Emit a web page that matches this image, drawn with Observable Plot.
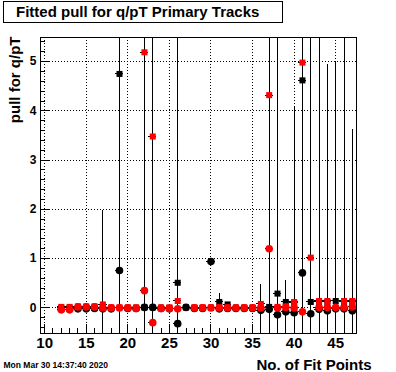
<!DOCTYPE html>
<html><head><meta charset="utf-8">
<script src="https://cdn.jsdelivr.net/npm/d3@7"></script>
<script src="https://cdn.jsdelivr.net/npm/@observablehq/plot@0.6"></script>
<style>
body{margin:0;background:#fff;}
#wrap{position:relative;width:396px;height:372px;font-family:"Liberation Sans",Arial,sans-serif;}
#wrap svg{position:absolute;left:0;top:0;}
#title{position:absolute;left:3px;top:1px;width:266px;height:20px;border:1px solid #000;background:#fff;font-weight:bold;font-size:15px;line-height:20px;padding-left:12px;white-space:nowrap;}
</style></head>
<body><div id="wrap"><div id="title">Fitted pull for q/pT Primary Tracks</div></div>
<script>
const nFit = [12,13,14,15,16,17,18,19,20,21,22,23,24,25,26,27,28,29,30,31,32,33,34,35,36,37,38,39,40,41,42,43,44,45,46,47];
const blackSquare    = [0,0,0,0,0,0,0,4.75,0,0,0.01,0.01,0,0,0.51,0.01,0,0,0,0.12,0.07,0,0,0,0,0.02,0.29,0.12,0.1,4.62,0.12,0.12,0.12,0.14,0.12,0.12];
const blackSquareErr = [0,0,0,0,0,0,0,8,0,0,0,0,0,0,8,0,0,0,0,0.17,0,0,0,0,0,0,8,0,0,8,0,0,0,4.86,0,0];
const blackCircle    = [-0.03,-0.03,-0.02,-0.02,-0.01,-0.02,-0.02,0.76,-0.01,-0.01,0.01,0.01,-0.01,-0.02,-0.32,0.01,-0.01,-0.01,0.94,-0.02,-0.01,-0.01,-0.01,-0.01,-0.05,-0.03,-0.14,-0.08,-0.1,0.71,-0.12,-0.03,-0.06,-0.02,-0.02,-0.06];
const blackCircleErr = [0,0,0,0,0,0,0,0,0,0,0,0,0,0,0,0,0,0,0,0,0,0,0,0,0.52,0,0,0.64,0,0,0,0,0,0,0,0];
const redSquare      = [0.02,0.02,0.03,0.03,0.03,0.07,0.01,0.01,0.01,0.01,5.19,3.48,0.01,0.01,0.14,null,0.01,0.01,0.01,0.01,0.01,0.01,0.01,0.01,0.08,4.32,0.02,0.03,0.12,4.98,1.02,0.14,0.14,null,0.14,0.14];
const redSquareErr   = [0,0,0,0,0,1.9,0,0,0,0,8,8,0,0,0,0,0,0,0,0,0,0,0,0,0,8,0,0,3.96,0,8,8,4.81,0,8,3.49];
const redCircle      = [-0.04,-0.04,0.02,0.02,0.02,0,0,0,0,-0.01,0.35,-0.3,-0.01,-0.01,-0.02,null,0,0,0,0,0,0,0,0,0,1.2,0,0.01,0,-0.08,null,0.01,0.01,0.01,0.01,0.02];
const redCircleErr   = nFit.map(() => 0);

const xTicks = [10,15,20,25,30,35,40,45];
const yTicks = [0,1,2,3,4,5];
const xMinor = d3.range(10, 48, 1);
const yMinor = d3.range(-0.4, 5.5, 0.2).map(v => +v.toFixed(2));

const W = 396, H = 372, mL = 40, mR = 40, mT = 37, mB = 39;
const FW = W - mL - mR, FH = H - mT - mB;
const crisp = {shapeRendering: "crispEdges"};

function rows(vals, errs) {
  return nFit.map((x, i) => ({x, y: vals[i], e: errs[i]})).filter(d => d.y != null);
}
const series = [
  {data: rows(blackSquare, blackSquareErr), fill: "black", symbol: "square", r: 3.4},
  {data: rows(blackCircle, blackCircleErr), fill: "black", symbol: "circle", r: 3.8},
  {data: rows(redSquare, redSquareErr), fill: "#ff0000", symbol: "square", r: 3.4},
  {data: rows(redCircle, redCircleErr), fill: "#ff0000", symbol: "circle", r: 3.8}
];

const marks = [
  Plot.gridX(xTicks, {stroke: "black", strokeOpacity: 1, strokeDasharray: "1,2", ...crisp}),
  Plot.gridY(yTicks, {stroke: "black", strokeOpacity: 1, strokeDasharray: "1,2", ...crisp}),
  Plot.tickY(yMinor, {y: d => d, stroke: "black", insetRight: FW - 4.5, ...crisp}),
  Plot.tickY(yTicks, {y: d => d, stroke: "black", insetRight: FW - 9, ...crisp}),
  Plot.tickX(xMinor, {x: d => d, stroke: "black", insetTop: FH - 5, ...crisp}),
  Plot.tickX(xTicks, {x: d => d, stroke: "black", insetTop: FH - 9, ...crisp}),
  Plot.axisY(yTicks, {anchor: "left", tickSize: 0, tickPadding: 4, fontSize: 12, fontWeight: "bold", label: null}),
  Plot.axisX(xTicks, {anchor: "bottom", tickSize: 0, tickPadding: 4, fontSize: 15, fontWeight: "bold", label: null})
];
for (const s of series) {
  const withErr = s.data.filter(d => d.e > 0);
  marks.push(
    Plot.ruleX(withErr, {x: "x", y1: d => d.y - d.e, y2: d => d.y + d.e, stroke: "black", strokeWidth: 1, clip: true, ...crisp}),
    Plot.ruleY(s.data, {y: "y", x1: d => d.x - 0.5, x2: d => d.x + 0.5, stroke: "black", clip: true, ...crisp}),
    Plot.dot(s.data, {x: "x", y: "y", symbol: s.symbol, fill: s.fill, r: s.r, clip: true})
  );
}
marks.push(
  Plot.frame({stroke: "black", ...crisp}),
  Plot.text(["No. of Fit Points"], {frameAnchor: "bottom-right", dx: 15, dy: 36, textAnchor: "end", lineAnchor: "bottom", fontSize: 15, fontWeight: "bold"}),
  Plot.text(["pull for q/pT"], {frameAnchor: "top-left", dx: -21, dy: -1, rotate: -90, textAnchor: "end", lineAnchor: "bottom", fontSize: 15, fontWeight: "bold"}),
  Plot.text(["Mon Mar 30 14:37:40 2020"], {frameAnchor: "bottom-left", dx: -37, dy: 34, textAnchor: "start", lineAnchor: "bottom", fontSize: 8.5, fontWeight: "bold"})
);

const chart = Plot.plot({
  width: W, height: H,
  marginLeft: mL, marginRight: mR, marginTop: mT, marginBottom: mB,
  style: {fontFamily: "'Liberation Sans', Arial, sans-serif", color: "black", background: "white", overflow: "visible"},
  x: {domain: [9.5, 47.5]},
  y: {domain: [-0.52, 5.49]},
  marks
});
document.getElementById("wrap").prepend(chart);
</script>
</body></html>
